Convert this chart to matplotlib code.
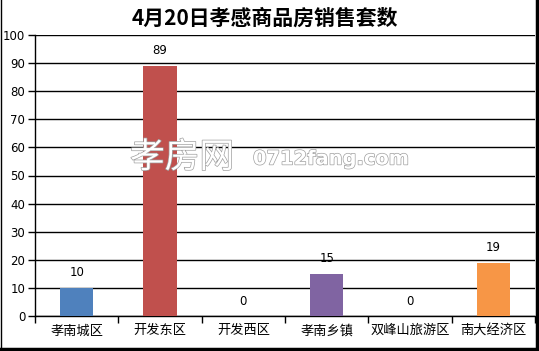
import matplotlib
matplotlib.use('Agg')
from matplotlib import pyplot as plt
from matplotlib.lines import Line2D
import matplotlib.patheffects as pe

plt.rcParams['font.family'] = ['Noto Sans CJK SC', 'DejaVu Sans']

# データ
categories = ['孝南城区', '开发东区', '开发西区', '孝南乡镇', '双峰山旅游区', '南大经济区']
values = [10, 89, 0, 15, 0, 19]
colors = ['#4F81BD', '#C0504D', '#9BBB59', '#8064A2', '#4BACC6', '#F79646']
title = '4月20日孝感商品房销售套数'

fig = plt.figure(figsize=(5.39, 3.51), dpi=100)
ax = fig.add_axes([35 / 539, 1 - 316 / 351, 500 / 539, 281 / 351])

x = range(len(categories))
bars = ax.bar(x, values, width=0.4, color=colors, zorder=3)

# 棒の上に値を表示
for i, v in enumerate(values):
    ax.text(i, v + 3, str(v), ha='center', va='bottom', fontsize=8.5,
            family=['DejaVu Sans'], zorder=4)

ax.set_xlim(-0.5, len(categories) - 0.5)
ax.set_ylim(0, 100)
ax.set_yticks(range(0, 101, 10))
ax.tick_params(axis='y', length=5, width=1, labelsize=8.5, direction='out', pad=2)
for lab in ax.get_yticklabels():
    lab.set_family(['DejaVu Sans'])

# x軸: 区切り位置に目盛り、中央にラベル
ax.set_xticks([i - 0.5 for i in range(len(categories) + 1)])
ax.set_xticklabels([])
ax.tick_params(axis='x', length=5, width=1, direction='out')
ax.set_xticks(list(x), minor=True)
ax.set_xticklabels(categories, minor=True, fontsize=9.5)
ax.tick_params(axis='x', which='minor', length=0, pad=6)

ax.grid(True, axis='y', color='black', linewidth=1, zorder=0)
for side in ['top', 'right']:
    ax.spines[side].set_visible(False)
ax.spines['left'].set_linewidth(1)
ax.spines['bottom'].set_linewidth(1)

# タイトル
fig.text(265 / 539, 1 - 18 / 351, title, ha='center', va='center',
         fontsize=15, fontweight='bold')

# 透かし
wm = [pe.Stroke(linewidth=1.0, foreground='#a0a0a0'), pe.Normal()]
fig.text(130 / 539, 1 - 158 / 351, '孝房网', ha='left', va='center', fontsize=25,
         color='white', path_effects=wm, zorder=10)
fig.text(253 / 539, 1 - 159 / 351, '0712fang.com', ha='left', va='center', fontsize=14,
         fontweight='bold', color='white', path_effects=wm,
         family=['DejaVu Sans'], zorder=10)

# 外枠
fig.add_artist(Line2D([0.5 / 539, 0.5 / 539], [0, 1], color='black', linewidth=1,
                      transform=fig.transFigure))
fig.add_artist(Line2D([537 / 539, 537 / 539], [0, 1], color='black', linewidth=2.5,
                      transform=fig.transFigure))
fig.add_artist(Line2D([0, 1], [2 / 351, 2 / 351], color='black', linewidth=2.5,
                      transform=fig.transFigure))

plt.savefig('out.png', dpi=100)
